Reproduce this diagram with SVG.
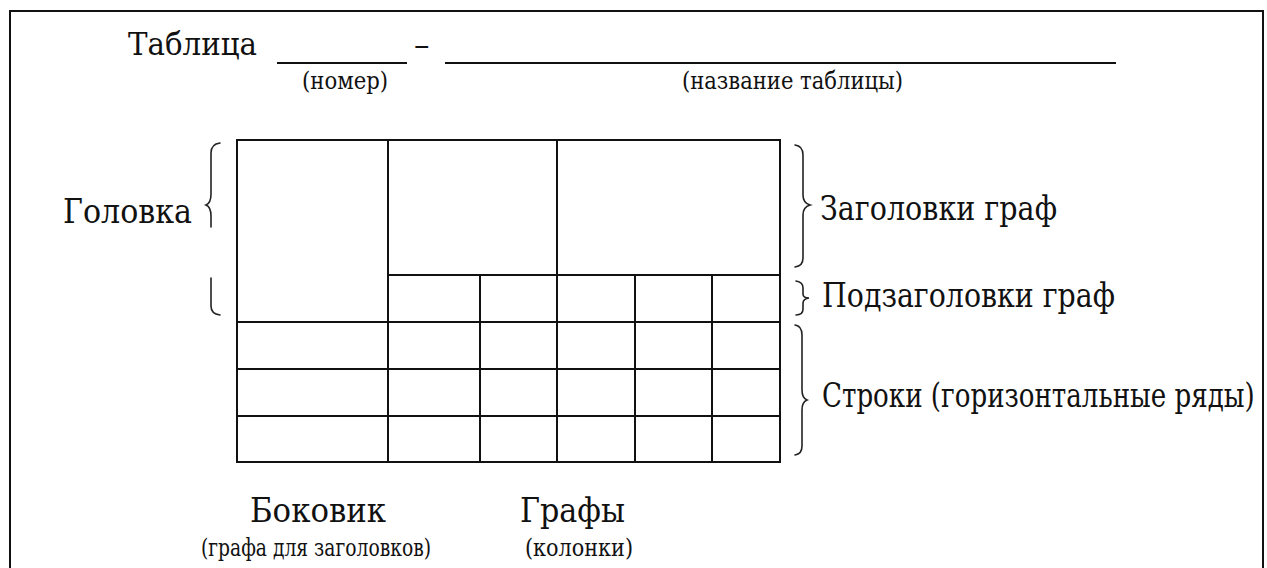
<svg xmlns="http://www.w3.org/2000/svg" width="1267" height="568" viewBox="0 0 1267 568">
<style>
.ln{stroke:#111;stroke-width:2;fill:none}
.br{stroke:#222;stroke-width:1.6;fill:none;stroke-linecap:round}
.t{font-family:'DejaVu Serif','Liberation Serif',serif;fill:#111}
.big{font-size:31px}
.lbl{font-size:33px}
.sm{font-size:24px}
</style>
<rect width="1267" height="568" fill="#fff"/>
<rect class="ln" x="10" y="11" width="1253" height="620"/>
<g id="title" class="t">
<text class="big" x="128" y="55" textLength="129" lengthAdjust="spacingAndGlyphs">Таблица</text>
<line class="ln" x1="277" y1="63" x2="407" y2="63"/>
<text class="big" x="414" y="55">–</text>
<line class="ln" x1="445" y1="63" x2="1116" y2="63"/>
<text class="sm" x="302" y="89" textLength="86" lengthAdjust="spacingAndGlyphs">(номер)</text>
<text class="sm" x="682" y="89" textLength="221" lengthAdjust="spacingAndGlyphs">(название таблицы)</text>
</g>
<g id="table">
<rect class="ln" x="237" y="140" width="543" height="322"/>
<line class="ln" x1="388" y1="140" x2="388" y2="462"/>
<line class="ln" x1="557" y1="140" x2="557" y2="462"/>
<line class="ln" x1="480" y1="275" x2="480" y2="462"/>
<line class="ln" x1="635" y1="275" x2="635" y2="462"/>
<line class="ln" x1="712" y1="275" x2="712" y2="462"/>
<line class="ln" x1="388" y1="275" x2="780" y2="275"/>
<line class="ln" x1="237" y1="322" x2="780" y2="322"/>
<line class="ln" x1="237" y1="369" x2="780" y2="369"/>
<line class="ln" x1="237" y1="416" x2="780" y2="416"/>
</g>
<g id="golovka" class="t">
<text class="lbl" x="63" y="223" textLength="129" lengthAdjust="spacingAndGlyphs">Головка</text>
<path class="br" d="M220,143 Q211,144 211,153 L211,194 Q211,203 206,205 Q211,207 211,216 L211,227"/>
<path class="br" d="M211,278 L211,306 Q211,314 220,315"/>
</g>
<g id="zagolovki" class="t">
<path class="br" d="M795,145 Q803,146 803,155 L803,195 Q803,203 810,205 Q803,207 803,215 L803,258 Q803,266 795,267"/>
<text class="lbl" x="820" y="220" textLength="237" lengthAdjust="spacingAndGlyphs">Заголовки граф</text>
</g>
<g id="podzagolovki" class="t">
<path class="br" d="M796,281 Q803,282 803,288 L803,294 Q803,298 809,298 Q803,299 803,303 L803,309 Q803,315 796,315"/>
<text class="lbl" x="822" y="307" textLength="293" lengthAdjust="spacingAndGlyphs">Подзаголовки граф</text>
</g>
<g id="stroki" class="t">
<path class="br" d="M795,325 Q802,326 802,335 L802,390 Q802,398 807,400 Q802,402 802,410 L802,446 Q802,454 795,455"/>
<text class="lbl" transform="translate(822,407) scale(0.8,1)" x="0" y="0" textLength="541" lengthAdjust="spacingAndGlyphs">Строки (горизонтальные ряды)</text>
</g>
<g id="bokovik" class="t">
<text class="lbl" x="250" y="522" textLength="136" lengthAdjust="spacingAndGlyphs">Боковик</text>
<text class="sm" x="201" y="556" textLength="230" lengthAdjust="spacingAndGlyphs">(графа для заголовков)</text>
</g>
<g id="grafy" class="t">
<text class="lbl" x="520" y="522" textLength="105" lengthAdjust="spacingAndGlyphs">Графы</text>
<text class="sm" x="525" y="556" textLength="108" lengthAdjust="spacingAndGlyphs">(колонки)</text>
</g>
</svg>
